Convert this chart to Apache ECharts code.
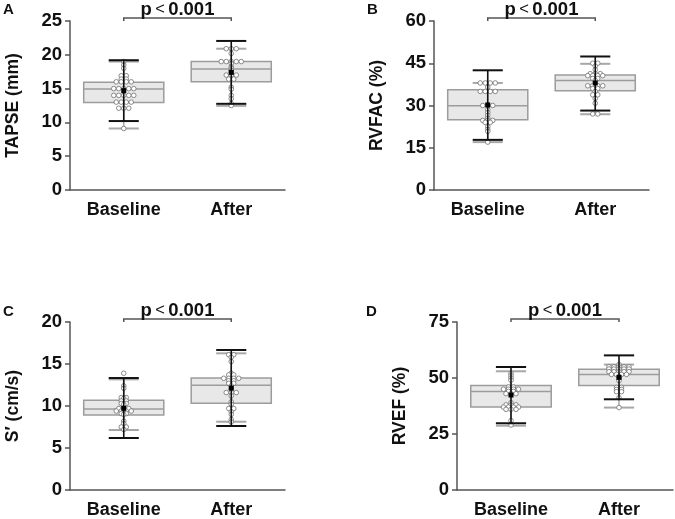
<!DOCTYPE html>
<html><head><meta charset="utf-8">
<script src="https://cdn.jsdelivr.net/npm/echarts@6/dist/echarts.min.js"></script>
<style>html,body{margin:0;padding:0;background:#fff}#c{width:675px;height:519px}</style>
</head><body><div id="c"></div>
<script>
// ---------- data ----------
const categories = ['Baseline', 'After'];
const panelLetters = ['A', 'B', 'C', 'D'];
const yAxisNames = ['TAPSE (mm)', 'RVFAC (%)', 'S\u2032 (cm/s)', 'RVEF (%)'];
const yMax = [25, 60, 20, 75];
const yInterval = [5, 15, 5, 25];
const pLabel = ['p', '<', '0.001'];

// box stats per category: [min, Q1, median, Q3, max]
const tapseBox = [[9.1, 12.95, 14.95, 15.95, 19.0], [12.45, 16.0, 17.9, 19.0, 20.9]];
const rvfacBox = [[17.0, 24.9, 29.9, 35.6, 38.0], [26.9, 35.2, 38.9, 40.8, 44.8]];
const sPrimeBox = [[7.14, 8.93, 9.64, 10.67, 13.17], [8.13, 10.32, 12.46, 13.33, 16.27]];
const rvefBox = [[28.7, 37.1, 44.0, 46.6, 53.0], [36.8, 46.6, 51.6, 53.9, 56.0]];

// mean, mean-SD, mean+SD per category
const tapseMeanSD = [[14.7, 10.2, 19.2], [17.4, 12.75, 22.05]];
const rvfacMeanSD = [[30.2, 17.8, 42.5], [38.0, 28.2, 47.4]];
const sPrimeMeanSD = [[9.72, 6.19, 13.33], [12.14, 7.62, 16.67]];
const rvefMeanSD = [[42.4, 29.8, 54.9], [50.3, 40.5, 60.1]];

// individual observations
const tapseBaseline = [19.0, 18.5, 18.0, 16.9, 16.9, 16.4, 16.4, 16.0, 16.0, 16.0, 16.0, 15.0, 15.0, 15.0, 15.0, 15.0, 14.0, 14.0, 14.0, 14.0, 14.0, 13.0, 13.0, 13.0, 13.0, 12.1, 12.1, 12.1, 9.1];
const tapseAfter = [20.9, 20.9, 20.9, 20.2, 19.0, 19.0, 19.0, 19.0, 19.0, 18.7, 18.2, 18.0, 17.7, 17.4, 17.0, 17.0, 17.0, 16.4, 16.4, 15.2, 14.9, 14.0, 13.5, 12.8, 12.5];
const rvfacBaseline = [38, 38, 38, 38, 36.5, 35, 35, 35, 35, 30, 30, 30, 28.5, 27.5, 26.5, 25.5, 24.7, 24.7, 24.7, 24, 24, 22.5, 21.5, 20.8, 17];
const rvfacAfter = [45, 45, 44, 42.7, 41.3, 41.3, 41.3, 40.6, 40.6, 40.6, 40.6, 39.6, 39.6, 38.9, 37, 37, 37, 37, 36, 36, 35, 33.8, 33.8, 32.5, 30.8, 27, 27];
const sPrimeBaseline = [13.9, 12.4, 12.1, 11.0, 11.0, 10.9, 10.6, 10.6, 10.3, 10.3, 10.2, 9.7, 9.7, 9.7, 9.6, 9.4, 9.4, 9.4, 9.4, 9.1, 9.1, 9.0, 8.2, 7.9, 7.5, 7.5, 7.2];
const sPrimeAfter = [16.1, 16.1, 15.8, 15.3, 13.9, 13.7, 13.7, 13.3, 13.3, 13.3, 13.3, 13.0, 13.0, 12.7, 12.7, 12.4, 12.0, 11.6, 11.6, 11.6, 11.2, 10.5, 10.2, 9.7, 9.7, 9.3, 9.0, 8.4, 8.1];
const rvefBaseline = [52, 51, 50, 49, 46, 46, 45, 45, 45, 45, 44, 44, 43, 43, 43, 39, 38, 38, 38, 37, 37, 37, 37, 36, 36, 36, 31, 29];
const rvefAfter = [56, 55, 55, 55, 55, 55, 54, 54, 54, 54, 54, 52.8, 52.8, 52.8, 52.8, 52.8, 51.6, 51.6, 51.6, 51.6, 50.6, 49.7, 48.8, 45.8, 45.8, 44.9, 44.9, 43.9, 43.9, 41.2, 36.8];

const panels = [
  { box: tapseBox, msd: tapseMeanSD, pts: [tapseBaseline, tapseAfter] },
  { box: rvfacBox, msd: rvfacMeanSD, pts: [rvfacBaseline, rvfacAfter] },
  { box: sPrimeBox, msd: sPrimeMeanSD, pts: [sPrimeBaseline, sPrimeAfter] },
  { box: rvefBox, msd: rvefMeanSD, pts: [rvefBaseline, rvefAfter] }
];

// ---------- layout ----------
const grids = [
  { left: 70, top: 21, width: 215, height: 169 },
  { left: 434, top: 21, width: 215, height: 169 },
  { left: 70, top: 322, width: 215, height: 168 },
  { left: 457, top: 322, width: 216, height: 168 }
];
const letterPos = [[3, 2], [367, 2], [3, 304], [366, 304]];
const FONT = '"Liberation Sans", Arial, Helvetica, sans-serif';
const AXIS_COLOR = '#555';
const DOT_STEP = 5;

// rows of equal values spread symmetrically (dot plot)
function rowOffsets(values) {
  const groups = {};
  values.forEach((v, i) => { (groups[v] = groups[v] || []).push(i); });
  const off = new Array(values.length);
  Object.values(groups).forEach(g => {
    g.forEach((idx, j) => { off[idx] = j - (g.length - 1) / 2; });
  });
  return off;
}

function renderBox(params, api) {
  const c = api.value(0);
  const x = api.coord([c, 0])[0];
  const y = v => api.coord([c, v])[1];
  const ymin = y(api.value(1)), yq1 = y(api.value(2)), ymed = y(api.value(3)), yq3 = y(api.value(4)), ymax = y(api.value(5));
  const band = api.size([1, 0])[0];
  const bw = band * 0.745, cw = band * 0.28;
  const gray = { stroke: '#a8a8a8', lineWidth: 2 };
  return { type: 'group', children: [
    { type: 'line', shape: { x1: x, y1: ymin, x2: x, y2: ymax }, style: { stroke: '#a8a8a8', lineWidth: 1.5 } },
    { type: 'rect', shape: { x: x - bw / 2, y: yq3, width: bw, height: yq1 - yq3 }, style: { fill: '#e8e8e8', stroke: '#9c9c9c', lineWidth: 1.5 } },
    { type: 'line', shape: { x1: x - bw / 2, y1: ymed, x2: x + bw / 2, y2: ymed }, style: { stroke: '#9c9c9c', lineWidth: 1.5 } },
    { type: 'line', shape: { x1: x - cw / 2, y1: ymin, x2: x + cw / 2, y2: ymin }, style: gray },
    { type: 'line', shape: { x1: x - cw / 2, y1: ymax, x2: x + cw / 2, y2: ymax }, style: gray }
  ]};
}

function renderPoint(params, api) {
  const p = api.coord([api.value(0), api.value(1)]);
  return { type: 'circle', shape: { cx: p[0] + api.value(2) * DOT_STEP, cy: p[1], r: 2.3 },
    style: { fill: '#fff', stroke: '#707070', lineWidth: 0.8 } };
}

function renderMeanSD(params, api) {
  const c = api.value(0);
  const pm = api.coord([c, api.value(1)]);
  const ylo = api.coord([c, api.value(2)])[1];
  const yhi = api.coord([c, api.value(3)])[1];
  const x = pm[0];
  const cw = api.size([1, 0])[0] * 0.28;
  return { type: 'group', children: [
    { type: 'line', shape: { x1: x, y1: ylo, x2: x, y2: yhi }, style: { stroke: '#111', lineWidth: 1.6 } },
    { type: 'line', shape: { x1: x - cw / 2, y1: ylo, x2: x + cw / 2, y2: ylo }, style: { stroke: '#111', lineWidth: 2 } },
    { type: 'line', shape: { x1: x - cw / 2, y1: yhi, x2: x + cw / 2, y2: yhi }, style: { stroke: '#111', lineWidth: 2 } },
    { type: 'rect', shape: { x: x - 2.5, y: pm[1] - 2.5, width: 5, height: 5 }, style: { fill: '#000' } }
  ]};
}

function renderBracket(params, api) {
  const p0 = api.coord([api.value(0), api.value(2)]);
  const p1 = api.coord([api.value(1), api.value(2)]);
  const top = p0[1] - 3;
  return { type: 'group', children: [
    { type: 'polyline', shape: { points: [[p0[0], p0[1]], [p0[0], top], [p1[0], top], [p1[0], p1[1]]] },
      style: { stroke: AXIS_COLOR, lineWidth: 1.5, fill: null } },
    { type: 'text', x: (p0[0] + p1[0]) / 2, y: top + 1,
      style: { text: '{b|' + pLabel[0] + '} {n|' + pLabel[1] + '} {b|' + pLabel[2] + '}',
        align: 'center', verticalAlign: 'bottom',
        rich: { b: { fontFamily: FONT, fontWeight: 'bold', fontSize: 18.5, fill: '#111' },
                n: { fontFamily: FONT, fontWeight: 'normal', fontSize: 16.5, fill: '#111' } } } }
  ]};
}

const xAxis = [], yAxis = [], series = [];
panels.forEach((pn, i) => {
  xAxis.push({
    gridIndex: i, type: 'category', data: categories, boundaryGap: true,
    axisLine: { lineStyle: { color: AXIS_COLOR, width: 1.5 } },
    axisTick: { alignWithLabel: true, length: 5, lineStyle: { color: AXIS_COLOR, width: 1.5 } },
    axisLabel: { color: '#111', fontFamily: FONT, fontWeight: 'bold', fontSize: 18, margin: 11 }
  });
  yAxis.push({
    gridIndex: i, type: 'value', min: 0, max: yMax[i], interval: yInterval[i],
    name: yAxisNames[i], nameLocation: 'middle', nameGap: 48,
    nameTextStyle: { color: '#111', fontFamily: FONT, fontWeight: 'bold', fontSize: 17.5 },
    axisLine: { show: true, lineStyle: { color: AXIS_COLOR, width: 1.5 } },
    axisTick: { show: true, length: 5, lineStyle: { color: AXIS_COLOR, width: 1.5 } },
    splitLine: { show: false },
    axisLabel: { color: '#111', fontFamily: FONT, fontWeight: 'bold', fontSize: 18.5, margin: 8 }
  });
  series.push({
    type: 'custom', xAxisIndex: i, yAxisIndex: i, z: 2, silent: true,
    renderItem: renderBox,
    data: pn.box.map((b, c) => [c].concat(b))
  });
  const ptsData = [];
  pn.pts.forEach((vals, c) => {
    const off = rowOffsets(vals);
    vals.forEach((v, k) => ptsData.push([c, v, off[k]]));
  });
  series.push({
    type: 'custom', xAxisIndex: i, yAxisIndex: i, z: 3, silent: true,
    renderItem: renderPoint, data: ptsData
  });
  series.push({
    type: 'custom', xAxisIndex: i, yAxisIndex: i, z: 4, silent: true,
    renderItem: renderMeanSD,
    data: pn.msd.map((m, c) => [c].concat(m))
  });
  series.push({
    type: 'custom', xAxisIndex: i, yAxisIndex: i, z: 5, silent: true, clip: false,
    renderItem: renderBracket, data: [[0, 1, yMax[i]]]
  });
});

const chart = echarts.init(document.getElementById('c'), null, { renderer: 'canvas' });
chart.setOption({
  backgroundColor: '#fff',
  animation: false,
  grid: grids.map(g => Object.assign({ containLabel: false }, g)),
  xAxis, yAxis, series,
  graphic: panelLetters.map((t, i) => ({
    type: 'text', left: letterPos[i][0], top: letterPos[i][1],
    style: { text: t, font: 'bold 15px ' + FONT, fill: '#111' }
  }))
});
</script></body></html>
